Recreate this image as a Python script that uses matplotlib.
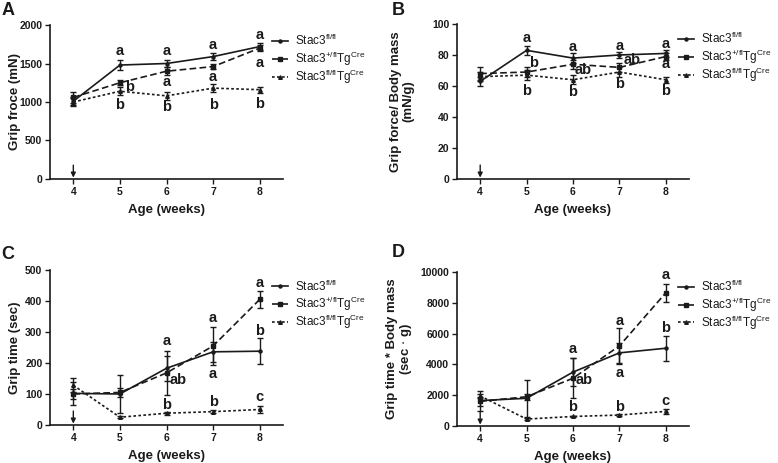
import numpy as np
import matplotlib
matplotlib.use('Agg')
import matplotlib.pyplot as plt
from matplotlib.transforms import offset_copy

plt.rcParams['font.family'] = ['Liberation Sans', 'DejaVu Sans']

# Datos
weeks = [4, 5, 6, 7, 8]
series_names = ['Stac3$^{\\mathregular{fl/fl}}$',
                'Stac3$^{\\mathregular{+/fl}}$Tg$^{\\mathregular{Cre}}$',
                'Stac3$^{\\mathregular{fl/fl}}$Tg$^{\\mathregular{Cre}}$']

# A: grip force (mN)
force_ff = [1010, 1480, 1500, 1590, 1720]
force_ff_err = [50, 60, 50, 40, 40]
force_het = [1060, 1250, 1400, 1460, 1700]
force_het_err = [70, 30, 50, 30, 40]
force_ko = [1000, 1140, 1080, 1180, 1160]
force_ko_err = [50, 50, 50, 50, 40]

# B: grip force / body mass (mN/g)
fbm_ff = [63, 83, 78, 80, 81]
fbm_ff_err = [3, 3, 3, 2, 2]
fbm_het = [68, 69, 74, 72, 79]
fbm_het_err = [4, 3, 3, 3, 2]
fbm_ko = [66, 67, 64, 69, 64]
fbm_ko_err = [3, 3, 3, 3, 2]

# C: grip time (sec)
time_ff = [102, 100, 183, 236, 238]
time_ff_err = [38, 62, 40, 32, 42]
time_het = [100, 105, 168, 255, 405]
time_het_err = [15, 15, 72, 62, 28]
time_ko = [128, 25, 38, 43, 50]
time_ko_err = [22, 3, 5, 5, 10]

# D: grip time * body mass (sec g)
tbm_ff = [1650, 1800, 3500, 4750, 5050]
tbm_ff_err = [650, 1200, 900, 650, 820]
tbm_het = [1600, 1900, 3100, 5200, 8650]
tbm_het_err = [300, 200, 1300, 1150, 600]
tbm_ko = [1950, 450, 620, 710, 950]
tbm_ko_err = [150, 50, 50, 80, 150]

# Letras de significancia: (semana, y, texto)
letters_a = [(5, 1660, 'a'), (5.2, 1200, 'b'), (5, 960, 'b'),
             (6, 1660, 'a'), (6, 1260, 'a'), (6, 930, 'b'),
             (7, 1740, 'a'), (7, 1330, 'a'), (7, 960, 'b'),
             (8, 1870, 'a'), (8, 1510, 'a'), (8, 980, 'b')]
letters_b = [(5, 91, 'a'), (5.15, 75, 'b'), (5, 57, 'b'),
             (6, 85, 'a'), (6.22, 70, 'ab'), (6, 56, 'b'),
             (7, 86, 'a'), (7.28, 77, 'ab'), (7, 61, 'b'),
             (8, 87, 'a'), (8, 74, 'a'), (8, 57, 'b')]
letters_c = [(6, 270, 'a'), (6.25, 145, 'ab'), (6, 65, 'b'),
             (7, 344, 'a'), (7, 163, 'a'), (7, 75, 'b'),
             (8, 457, 'a'), (8, 303, 'b'), (8, 91, 'c')]
letters_d = [(6, 5000, 'a'), (6.25, 2990, 'ab'), (6, 1250, 'b'),
             (7, 6800, 'a'), (7, 3420, 'a'), (7, 1250, 'b'),
             (8, 9800, 'a'), (8, 6380, 'b'), (8, 1620, 'c')]

panels = [
    dict(tag='A', pos=[0.0643, 0.6134, 0.2995, 0.3326], ylim=2000, step=500,
         ylabel='Grip froce (mN)', data=[(force_ff, force_ff_err), (force_het, force_het_err), (force_ko, force_ko_err)],
         letters=letters_a, tagpos=(0.002, 0.995), labx=-0.125, legy=[0.895, 0.78, 0.665]),
    dict(tag='B', pos=[0.5874, 0.6134, 0.2982, 0.3348], ylim=100, step=20,
         ylabel='Grip force/ Body mass\n(mN/g)', data=[(fbm_ff, fbm_ff_err), (fbm_het, fbm_het_err), (fbm_ko, fbm_ko_err)],
         letters=letters_b, tagpos=(0.503, 0.995), labx=-0.185, legy=[0.903, 0.788, 0.673]),
    dict(tag='C', pos=[0.0643, 0.0821, 0.2995, 0.3348], ylim=500, step=100,
         ylabel='Grip time (sec)', data=[(time_ff, time_ff_err), (time_het, time_het_err), (time_ko, time_ko_err)],
         letters=letters_c, tagpos=(0.002, 0.468), labx=-0.125, legy=[0.895, 0.78, 0.665]),
    dict(tag='D', pos=[0.5874, 0.0799, 0.2982, 0.3326], ylim=10000, step=2000,
         ylabel='Grip time * Body mass\n(sec $\\cdot$ g)', data=[(tbm_ff, tbm_ff_err), (tbm_het, tbm_het_err), (tbm_ko, tbm_ko_err)],
         letters=letters_d, tagpos=(0.503, 0.474), labx=-0.185, legy=[0.903, 0.788, 0.673]),
]

styles = [dict(ls='-', marker='o', ms=2.2),
          dict(ls=(0, (4, 2)), marker='s', ms=2.4),
          dict(ls=(0, (1.6, 1.4)), marker='^', ms=2.6)]

col = '#1a1a1a'
fig = plt.figure(figsize=(7.78, 4.63), dpi=100)

for p in panels:
    ax = fig.add_axes(p['pos'])
    for (vals, err), st, name in zip(p['data'], styles, series_names):
        ax.errorbar(weeks, vals, yerr=err, fmt='none', ecolor=col, elinewidth=1.0,
                    capsize=2.2, capthick=1.0)
        ax.plot(weeks, vals, color=col, lw=1.2, ls=st['ls'], marker=st['marker'],
                ms=st['ms'], label=name)
    for x, y, t in p['letters']:
        ax.text(x, y, t, ha='center', va='center', fontsize=10.5, fontweight='bold', color=col)
    ym = p['ylim']
    ax.annotate('', xy=(4, 0.0), xytext=(4, 0.09 * ym),
                arrowprops=dict(arrowstyle='-|>', color=col, lw=1.0, mutation_scale=7,
                                shrinkA=0, shrinkB=1))
    ax.set_xlim(3.5, 8.5)
    ax.set_ylim(0, ym)
    ax.set_xticks(weeks)
    ax.set_yticks(np.arange(0, ym + 1, p['step']))
    for s in ['top', 'right']:
        ax.spines[s].set_visible(False)
    for s in ['left', 'bottom']:
        ax.spines[s].set_linewidth(1.2)
        ax.spines[s].set_color(col)
    ax.tick_params(direction='out', length=3.5, width=1.0, colors=col, labelsize=7.5, pad=2)
    for lab in ax.get_xticklabels() + ax.get_yticklabels():
        lab.set_fontweight('bold')
    ax.set_xlabel('Age (weeks)', fontsize=9.5, fontweight='bold', color=col, labelpad=5)
    ax.set_ylabel(p['ylabel'], fontsize=9.5, fontweight='bold', color=col, linespacing=1.0)
    ax.yaxis.set_label_coords(p['labx'], 0.5)

    # leyenda a mano (filas con separacion uniforme)
    txt_tr = offset_copy(ax.transAxes, fig=fig, y=-3.1, units='points')
    for st, name, ly in zip(styles, series_names, p['legy']):
        ax.plot([0.953, 0.987, 1.02], [ly, ly, ly], transform=ax.transAxes, clip_on=False,
                color=col, lw=1.2, ls=st['ls'], marker=st['marker'], ms=st['ms'],
                markevery=[1])
        ax.text(1.053, ly, name, transform=txt_tr, fontsize=8.5, color=col,
                ha='left', va='baseline')
    fig.text(p['tagpos'][0], p['tagpos'][1], p['tag'], fontsize=13, fontweight='bold',
             ha='left', va='top', color=col)

fig.savefig('out.png', dpi=100)
